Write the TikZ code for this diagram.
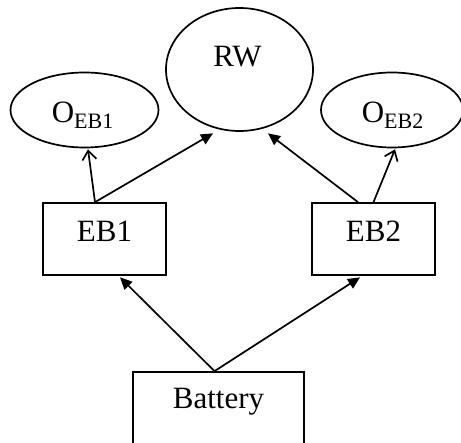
\documentclass[tikz,border=0pt]{standalone}
\usepackage{fontspec}
\setmainfont{Liberation Serif}
\usetikzlibrary{arrows.meta,shapes.geometric}
\tikzset{
  every picture/.style={x=1pt,y=-1pt},
  lbl/.style={anchor=base,inner sep=0pt,font=\fontsize{31}{36}\selectfont},
  blockbox/.style={draw,line width=1.7pt,rectangle,inner sep=0pt,
    font=\fontsize{31}{36}\selectfont},
  oval/.style={draw,line width=1.7pt,ellipse,inner sep=0pt},
  conn/.style={line width=1.7pt},
  solidtip/.style={conn,-{Triangle[length=12pt,width=11pt]}},
  opentip/.style={conn,-{Straight Barb[length=9pt,width=14pt,line width=1.7pt]}}
}
\newcommand{\osub}[1]{O\raisebox{-6pt}{\fontsize{22}{22}\selectfont #1}}
\begin{document}
\begin{tikzpicture}
\useasboundingbox (0,0) rectangle (461,443);
\clip (0,0) rectangle (461,443);
\fill[white] (0,0) rectangle (461,443);

% result node and the two output ovals
\node[oval,minimum width=147pt,minimum height=123pt] (rw) at (239.5,69.5) {};
\node[lbl] (rwtext) at (237.5,66.7) {RW};
\node[oval,minimum width=148pt,minimum height=75pt] (oeb1) at (84.5,110) {};
\node[lbl] (oeb1text) at (82.5,123) {\osub{EB1}};
\node[oval,minimum width=142pt,minimum height=75pt] (oeb2) at (392,110) {};
\node[lbl] (oeb2text) at (392.5,123) {\osub{EB2}};

% blocks: text height = baseline to top edge, text depth = baseline to bottom edge
\node[blockbox,minimum width=123pt,text height=39pt,text depth=33pt] (eb1) at (104.5,239) {EB1};
\node[blockbox,minimum width=123pt,text height=39pt,text depth=33pt] (eb2) at (373.5,239) {EB2};
\node[blockbox,minimum width=171pt,text height=37pt,text depth=38pt] (bat) at (218.5,409.5) {Battery};

% connectors
\draw[opentip] ([xshift=-9.5pt]eb1.north) -- ([xshift=3.5pt,yshift=-1pt]oeb1.south);
\draw[solidtip] ([xshift=-9.5pt]eb1.north) -- ([xshift=-26.5pt,yshift=-1.5pt]rw.south);
\draw[solidtip] ([xshift=-15.5pt]eb2.north) -- ([xshift=28.5pt,yshift=-1.5pt]rw.south);
\draw[opentip] (eb2.north) -- ([xshift=3pt,yshift=-1pt]oeb2.south);
\draw[solidtip] ([xshift=-4pt]bat.north) -- ([xshift=15.5pt,yshift=-1.5pt]eb1.south);
\draw[solidtip] ([xshift=-4pt]bat.north) -- ([xshift=-13.5pt,yshift=-1.5pt]eb2.south);
\end{tikzpicture}
\end{document}
